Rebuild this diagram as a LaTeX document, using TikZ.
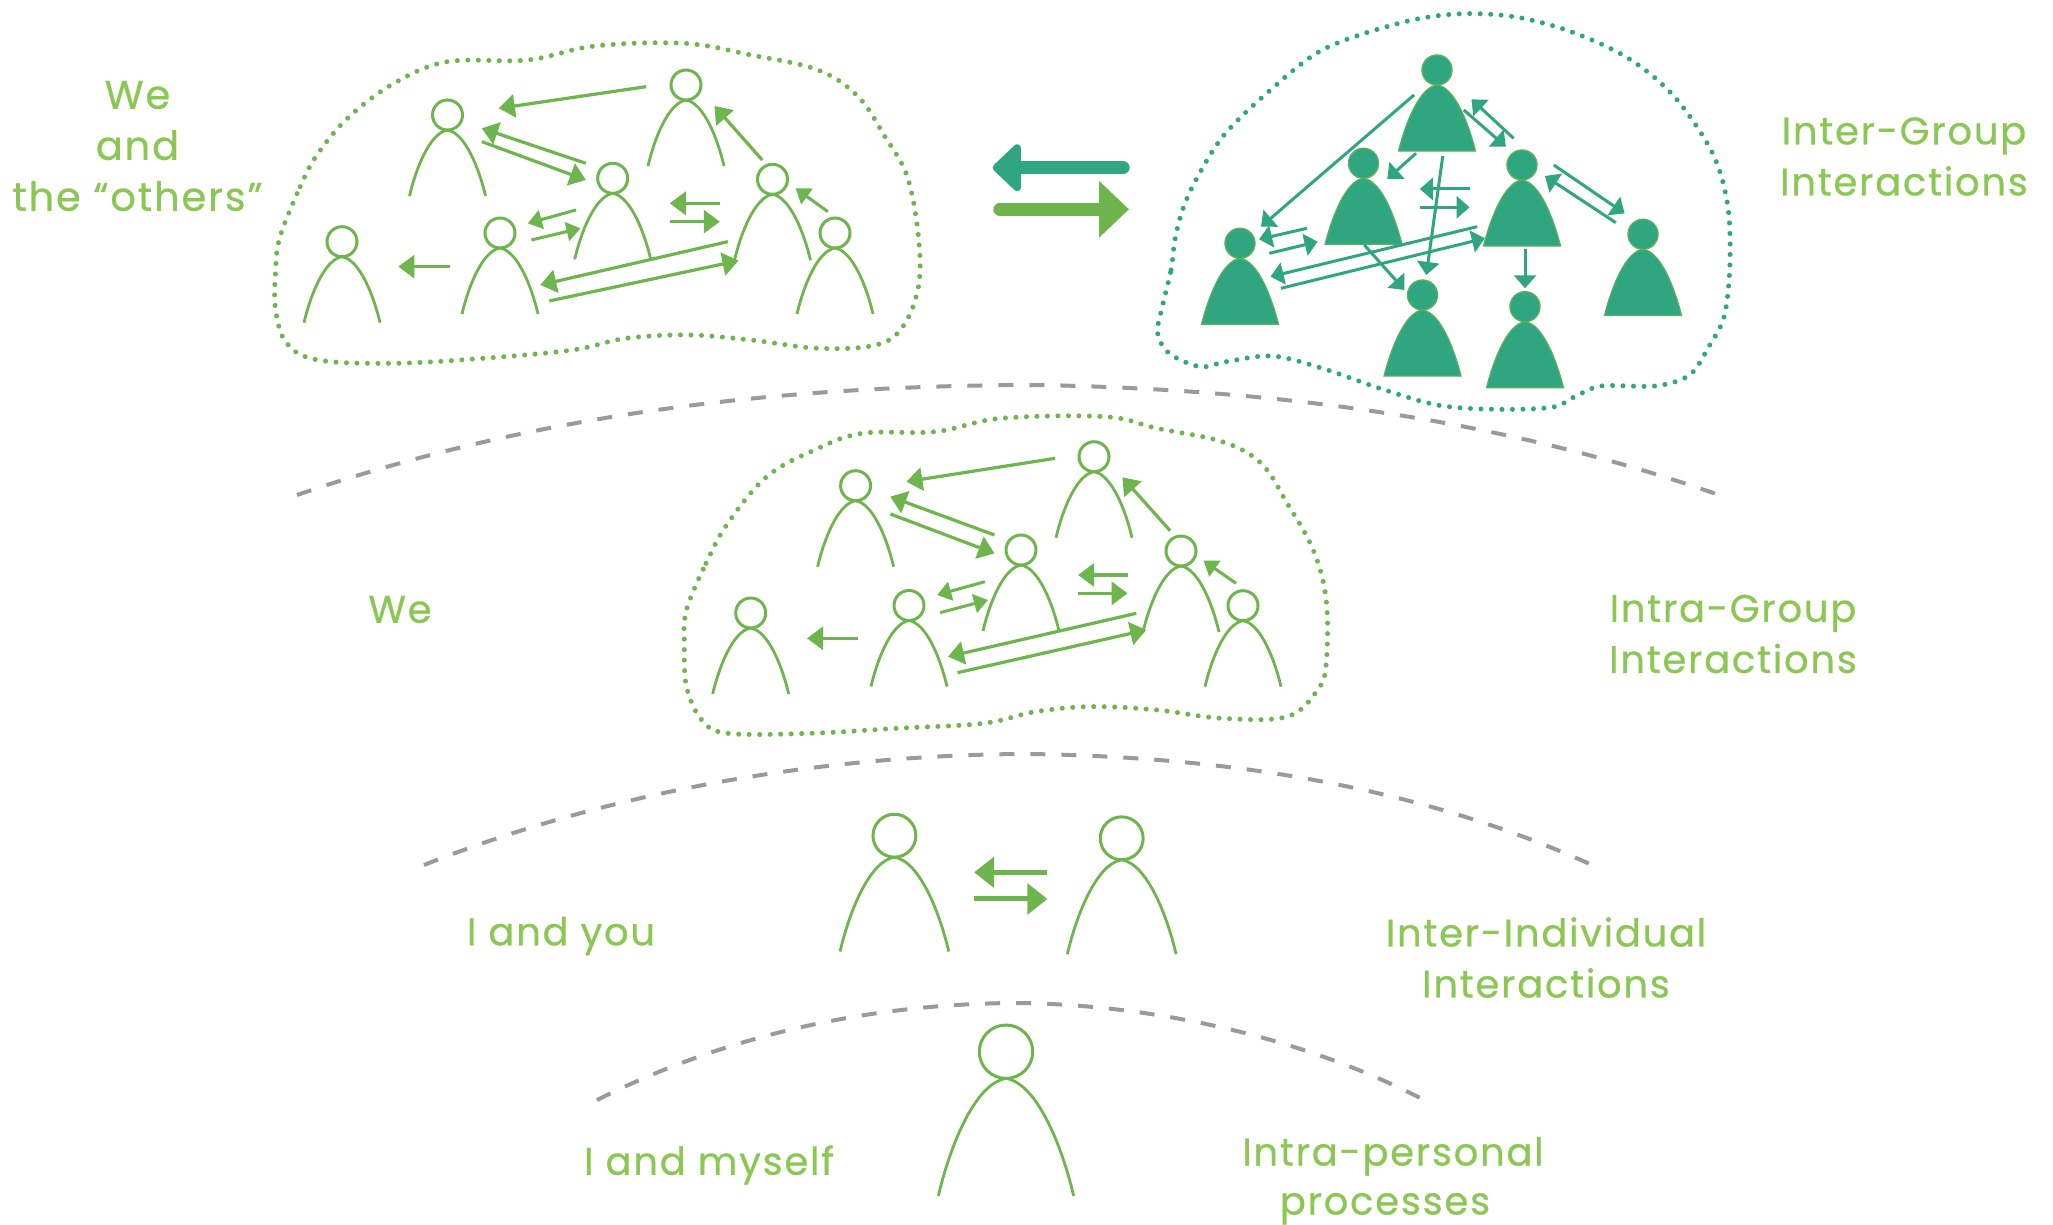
\documentclass[tikz,border=0pt]{standalone}
\usepackage{fontspec}
\setmainfont[LetterSpace=4.5,FakeBold=0.5]{Poppins}
\usetikzlibrary{arrows.meta}
\definecolor{lg}{HTML}{6DB54C}
\definecolor{txt}{HTML}{8AC853}
\definecolor{tl}{HTML}{2FA67F}
\definecolor{gr}{HTML}{9A9A9C}
\tikzset{
  head/.style={circle,draw=lg,line width=3pt,inner sep=0pt,fill=white},
  bodyline/.style={draw=lg,line width=2.8pt},
  solidhead/.style={circle,draw=lg!70!tl,line width=1.4pt,fill=tl,inner sep=0pt},
  solidbody/.style={fill=tl,draw=lg!70!tl,line width=1.2pt},
  blob/.style={line width=5pt,line cap=round,dash pattern=on 0pt off 10.5pt},
  gar/.style={draw=lg,line width=3.2pt,-{Triangle[length=16pt,width=23pt]}},
  garS/.style={draw=lg,line width=3pt,-{Triangle[length=14pt,width=19pt]}},
  tar/.style={draw=tl,line width=3pt,-{Triangle[length=14pt,width=23pt]}},
  tarS/.style={draw=tl,line width=3pt,-{Triangle[length=13pt,width=22pt]}},
  arc/.style={draw=gr,line width=4pt,dash pattern=on 15pt off 16pt},
  lab/.style={text=txt,align=center,font=\fontsize{38.5}{51}\selectfont,inner sep=0pt},
}
\newcommand{\pers}[4]{%
  \begin{scope}[shift={(#2,#3)},scale=#4]
    \draw[bodyline] (-38,81) .. controls (-32,55) and (-18,18) .. (0,15) .. controls (18,18) and (32,55) .. (38,81);
  \end{scope}
  \node[head,minimum size=#4*30pt] (#1) at (#2,#3) {};
}
\newcommand{\solidp}[3]{%
  \begin{scope}[shift={(#2,#3)}]
    \fill[solidbody] (-38.5,81) .. controls (-32,55) and (-18,17) .. (0,15) .. controls (18,17) and (32,55) .. (38.5,81) -- cycle;
  \end{scope}
  \node[solidhead,minimum size=30pt] (#1) at (#2,#3) {};
}
\begin{document}
\begin{tikzpicture}[x=1pt,y=-1pt]
\useasboundingbox[fill=white] (0,0) rectangle (2053,1224);
% dashed arcs
\draw[arc] (297,495) .. controls (560,405) and (820,385) .. (1040,385) .. controls (1300,390) and (1520,425) .. (1722,496);
\draw[arc] (424,865) .. controls (620,787) and (840,754) .. (1030,754) .. controls (1230,757) and (1420,787) .. (1592,865);
\draw[arc] (597,1100) .. controls (740,1028) and (890,1003) .. (1020,1003) .. controls (1150,1005) and (1300,1035) .. (1428,1102);
% group 1
\pers{a1}{447.5}{115}{1}
\pers{a2}{686}{85}{1}
\pers{a3}{612.7}{178.3}{1}
\pers{a4}{772.5}{179.3}{1}
\pers{a5}{500}{233}{1}
\pers{a6}{342}{241.7}{1}
\pers{a7}{835}{233}{1}
\begin{scope}[shift={(260,20)},x=0.4464pt,y=-0.3333pt]
\draw[lg,blob] plot[smooth cycle,tension=0.6] coordinates {(45,650)(90,500)(130,400)(200,290)(300,190)(420,125)(600,120)(750,78)(950,70)(1100,105)(1250,150)(1340,230)(1400,350)(1450,470)(1475,650)(1475,800)(1440,920)(1380,975)(1250,985)(1100,960)(960,945)(820,955)(700,990)(500,1015)(300,1030)(130,1020)(60,970)(35,870)(35,750)};
\draw[gar] (865,200)--(535,265);
\draw[gar] (730,430)--(497,325);
\draw[gar] (497,365)--(730,480);
\draw[gar] (1125,420)--(1018,258);
\draw[garS] (1272,575)--(1200,505);
\draw[garS] (708,570)--(600,610);
\draw[garS] (608,660)--(718,625);
\draw[gar] (1030,550)--(918,550);
\draw[gar] (918,605)--(1030,605);
\draw[gar] (1048,665)--(628,795);
\draw[gar] (648,843)--(1072,722);
\draw[gar] (425,740)--(310,740);
\end{scope}
% group 3
\pers{b1}{855.6}{485.7}{1}
\pers{b2}{1094}{456.7}{1}
\pers{b3}{1021}{550}{1}
\pers{b4}{1181}{551}{1}
\pers{b5}{909}{605.5}{1}
\pers{b6}{750.7}{613}{1}
\pers{b7}{1243}{605.7}{1}
\begin{scope}[shift={(680,400)},x=0.4337pt,y=-0.3333pt]
\draw[lg,blob] plot[smooth cycle,tension=0.6] coordinates {(15,630)(60,490)(110,370)(200,230)(310,150)(420,100)(590,95)(740,55)(980,50)(1100,85)(1250,125)(1340,190)(1400,310)(1460,450)(1490,600)(1490,790)(1470,870)(1400,950)(1250,955)(1100,930)(950,920)(820,935)(700,970)(500,985)(300,1000)(110,1000)(50,960)(15,860)(10,730)};
\draw[gar] (865,175)--(522,245);
\draw[gar] (725,405)--(485,290);
\draw[gar] (485,342)--(725,460);
\draw[gar] (1130,392)--(1020,232);
\draw[garS] (1282,550)--(1207,482);
\draw[garS] (703,545)--(593,585);
\draw[garS] (600,638)--(710,600);
\draw[gar] (1032,525)--(918,525);
\draw[gar] (918,580)--(1032,580);
\draw[gar] (1052,640)--(618,770);
\draw[gar] (640,818)--(1075,690);
\draw[gar] (410,715)--(293,715);
\end{scope}
% group 2 (solid)
\solidp{f1}{1437}{70}
\solidp{f2}{1363.5}{163.3}
\solidp{f3}{1522}{165}
\solidp{f4}{1240}{243.3}
\solidp{f5}{1643}{234.3}
\solidp{f6}{1422.5}{295}
\solidp{f7}{1525}{306.7}
\begin{scope}[shift={(1150,0)},x=0.3827pt,y=-0.3333pt]
\draw[tl,blob] plot[smooth cycle,tension=0.55] coordinates {(30,930)(55,810)(65,720)(85,630)(120,540)(190,410)(300,285)(450,150)(650,70)(800,42)(950,50)(1100,95)(1250,175)(1370,290)(1470,460)(1510,620)(1515,800)(1500,950)(1460,1040)(1410,1125)(1320,1158)(1180,1158)(1110,1190)(1050,1222)(900,1228)(750,1215)(600,1165)(450,1105)(320,1068)(200,1085)(130,1100)(50,1060)(20,1000)};
\draw[tarS] (690,285)--(290,680);
\draw[tarS] (820,330)--(930,440);
\draw[tarS] (950,415)--(840,298);
\draw[tarS] (695,460)--(620,537);
\draw[tarS] (765,468)--(722,825);
\draw[tarS] (835,567)--(705,567);
\draw[tarS] (705,622)--(835,622);
\draw[tarS] (1055,495)--(1240,640);
\draw[tarS] (1217,668)--(1032,528);
\draw[tarS] (980,748)--(980,865);
\draw[tarS] (560,735)--(665,870);
\draw[tarS] (410,685)--(285,718);
\draw[tarS] (312,760)--(438,725);
\draw[tarS] (855,680)--(315,830);
\draw[tarS] (342,865)--(875,715);
\end{scope}
% central arrows
\coordinate (cta) at (1123,167.7);
\coordinate (ctb) at (992.7,167.7);
\coordinate (cga) at (1000,209.3);
\coordinate (cgb) at (1129,209.3);
\draw[tl,line width=13.3pt,line cap=round,-{Triangle[length=30pt,width=55pt,round=false]}] (cta)--(ctb);
\draw[lg,line width=13.3pt,line cap=round,-{Triangle[length=30pt,width=55pt]}] (cga)--(cgb);
% pair
\pers{c1}{894.4}{835.7}{1.43}
\pers{c2}{1121.7}{838.3}{1.43}
\begin{scope}[shift={(400,750)},x=0.7974pt,y=-0.3333pt]
\draw[gar,-{Triangle[length=20pt,width=30pt]},line width=5pt] (812,367)--(720,367);
\draw[gar,-{Triangle[length=20pt,width=30pt]},line width=5pt] (720,447)--(812,447);
\end{scope}
% single
\pers{d1}{1006}{1051.7}{1.78}
% labels
\node[lab,font=\fontsize{40}{51}\selectfont] (t1) at (137.5,146) {We\\and\\the “others”};
\node[lab] (t2) at (1904,156.5) {Inter-Group\\Interactions};
\node[lab] (t3) at (400,609.5) {We};
\node[lab] (t4) at (1733,634) {Intra-Group\\Interactions};
\node[lab] (t5) at (561,936) {I and you};
\node[lab] (t6) at (1546,957.5) {Inter-Individual\\Interactions};
\node[lab] (t7) at (709,1165) {I and myself};
\node[lab,anchor=base] (t8) at (1393,1165.5) {Intra-personal};
\node[lab,anchor=base] (t9) at (1385,1214.5) {processes};
\end{tikzpicture}
\end{document}
